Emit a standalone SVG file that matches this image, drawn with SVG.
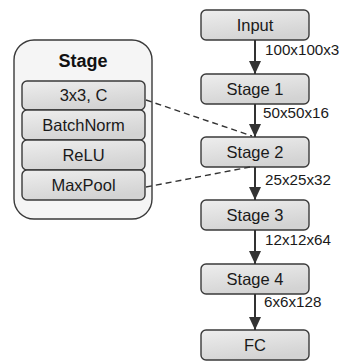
<svg xmlns="http://www.w3.org/2000/svg" width="342" height="363" viewBox="0 0 342 363">
  <style>
    .box { fill: url(#boxFill); stroke: #3a3a3a; stroke-width: 1.4; }
    .panel { fill: #f5f5f5; stroke: #3a3a3a; stroke-width: 1.4; }
    .lbl { font-family: "Liberation Sans", Arial, sans-serif; font-size: 16.5px; fill: #1a1a1a; text-anchor: middle; }
    .dim { font-family: "Liberation Sans", Arial, sans-serif; font-size: 15.2px; fill: #1a1a1a; }
    .title { font-family: "Liberation Sans", Arial, sans-serif; font-size: 18px; font-weight: bold; fill: #111; text-anchor: middle; }
    .flow { stroke: #333; stroke-width: 2; fill: none; }
    .dash { stroke: #333; stroke-width: 1.4; fill: none; stroke-dasharray: 6 4; }
  </style>
  <defs>
    <linearGradient id="boxFill" x1="0" y1="0" x2="0.4" y2="1">
      <stop offset="0" stop-color="#eeeeee"/>
      <stop offset="1" stop-color="#d3d3d3"/>
    </linearGradient>
    <marker id="head" viewBox="0 0 13 12" refX="13" refY="6" markerWidth="13" markerHeight="12" markerUnits="userSpaceOnUse" orient="auto">
      <path d="M0,0 L13,6 L0,12 Z" fill="#333"/>
    </marker>
  </defs>

  <!-- Stage detail panel -->
  <g id="stage-detail">
    <rect class="panel" x="14" y="40" width="138" height="179" rx="20" ry="20"/>
    <text class="title" x="83" y="67">Stage</text>
  </g>
  <g id="conv">
    <rect class="box" x="22" y="81" width="123" height="29" rx="5"/>
    <text class="lbl" x="83.5" y="101">3x3, C</text>
  </g>
  <g id="batchnorm">
    <rect class="box" x="22" y="110" width="123" height="30" rx="5"/>
    <text class="lbl" x="83.5" y="131">BatchNorm</text>
  </g>
  <g id="relu">
    <rect class="box" x="22" y="140" width="123" height="30" rx="5"/>
    <text class="lbl" x="83.5" y="161">ReLU</text>
  </g>
  <g id="maxpool">
    <rect class="box" x="22" y="170" width="123" height="30" rx="5"/>
    <text class="lbl" x="83.5" y="191">MaxPool</text>
  </g>

  <!-- Network pipeline -->
  <g id="input">
    <rect class="box" x="201" y="10" width="108" height="30" rx="5"/>
    <text class="lbl" x="255" y="31">Input</text>
  </g>
  <g id="stage1">
    <rect class="box" x="201" y="74" width="108" height="30" rx="5"/>
    <text class="lbl" x="255" y="95">Stage 1</text>
  </g>
  <g id="stage2">
    <rect class="box" x="201" y="137" width="108" height="30" rx="5"/>
    <text class="lbl" x="255" y="158">Stage 2</text>
  </g>
  <g id="stage3">
    <rect class="box" x="201" y="200" width="108" height="30" rx="5"/>
    <text class="lbl" x="255" y="221">Stage 3</text>
  </g>
  <g id="stage4">
    <rect class="box" x="201" y="264" width="108" height="30" rx="5"/>
    <text class="lbl" x="255" y="285">Stage 4</text>
  </g>
  <g id="fc">
    <rect class="box" x="201" y="330" width="108" height="30" rx="5"/>
    <text class="lbl" x="255" y="351">FC</text>
  </g>

  <!-- Connectors -->
  <g id="connectors">
    <line class="flow" x1="255" y1="40" x2="255" y2="74" marker-end="url(#head)"/>
    <line class="flow" x1="255" y1="104" x2="255" y2="137" marker-end="url(#head)"/>
    <line class="flow" x1="255" y1="167" x2="255" y2="200" marker-end="url(#head)"/>
    <line class="flow" x1="255" y1="230" x2="255" y2="264" marker-end="url(#head)"/>
    <line class="flow" x1="255" y1="294" x2="255" y2="330" marker-end="url(#head)"/>
    <line class="dash" x1="146" y1="100" x2="252" y2="136"/>
    <line class="dash" x1="146" y1="187" x2="250" y2="167"/>
    <text class="dim" x="265" y="55">100x100x3</text>
    <text class="dim" x="263" y="118">50x50x16</text>
    <text class="dim" x="265" y="185">25x25x32</text>
    <text class="dim" x="265" y="245">12x12x64</text>
    <text class="dim" x="264" y="307">6x6x128</text>
  </g>
</svg>
